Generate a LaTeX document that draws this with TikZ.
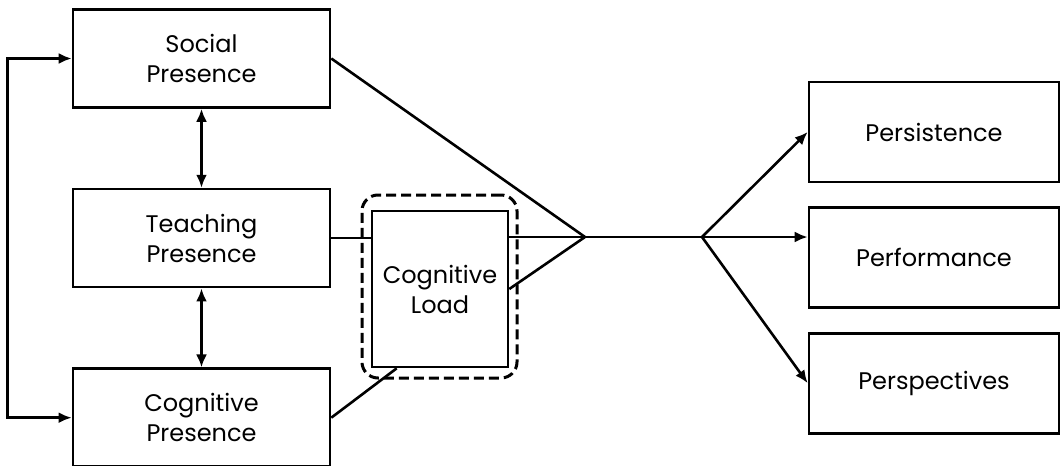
\documentclass[tikz,border=0pt]{standalone}
\usepackage{fontspec}
\setmainfont{Poppins}
\usetikzlibrary{arrows.meta,positioning}

\begin{document}
\begin{tikzpicture}[x=1pt,y=-1pt,>={Latex[length=13pt,width=11pt]},line width=2.6pt,
  box/.style={draw,align=center,font=\fontsize{24}{30}\selectfont,minimum width=257pt,minimum height=98pt,inner sep=0pt},
  outbox/.style={box,minimum width=250pt,minimum height=100pt}]
\useasboundingbox (0,0) rectangle (1061,466);
\node[box] (social) at (201.5,58.5) {Social\\Presence};
\node[box,below=79pt of social] (teaching) {Teaching\\Presence};
\node[box,below=79pt of teaching] (cogpres) {Cognitive\\Presence};
\node[box,minimum width=136pt,minimum height=156pt] (cogload) at (440,289) {Cognitive\\Load};
\node[draw,line width=3pt,dash pattern=on 10pt off 5pt,rounded corners=16pt,minimum width=155pt,minimum height=183pt] (focus) at (439.5,286.5) {};
\node[outbox] (persist) at (934,132) {Persistence};
\node[outbox,below=23pt of persist] (perform) {Performance};
\node[outbox,below=23pt of perform] (perspect) {Perspectives};
\coordinate (join) at (585,237);
\coordinate (fork) at (702,237);
\draw[<->] (social) -- (teaching);
\draw[<->] (teaching) -- (cogpres);
\draw[<->] (social.west) -- ([xshift=-64pt]social.west) |- (cogpres.west);
\draw (teaching.east) -- (teaching.east -| cogload.west);
\draw (social.east) -- (join);
\draw (cogload.east |- join) -- (join) -- (fork);
\draw (cogload.east) -- (join);
\draw (cogpres.east) -- ([xshift=26pt]cogload.south west);
\draw[->] (fork) -- (persist.west);
\draw[->] (fork) -- (perform.west |- fork);
\draw[->] (fork) -- (perspect.west);
\end{tikzpicture}
\end{document}
